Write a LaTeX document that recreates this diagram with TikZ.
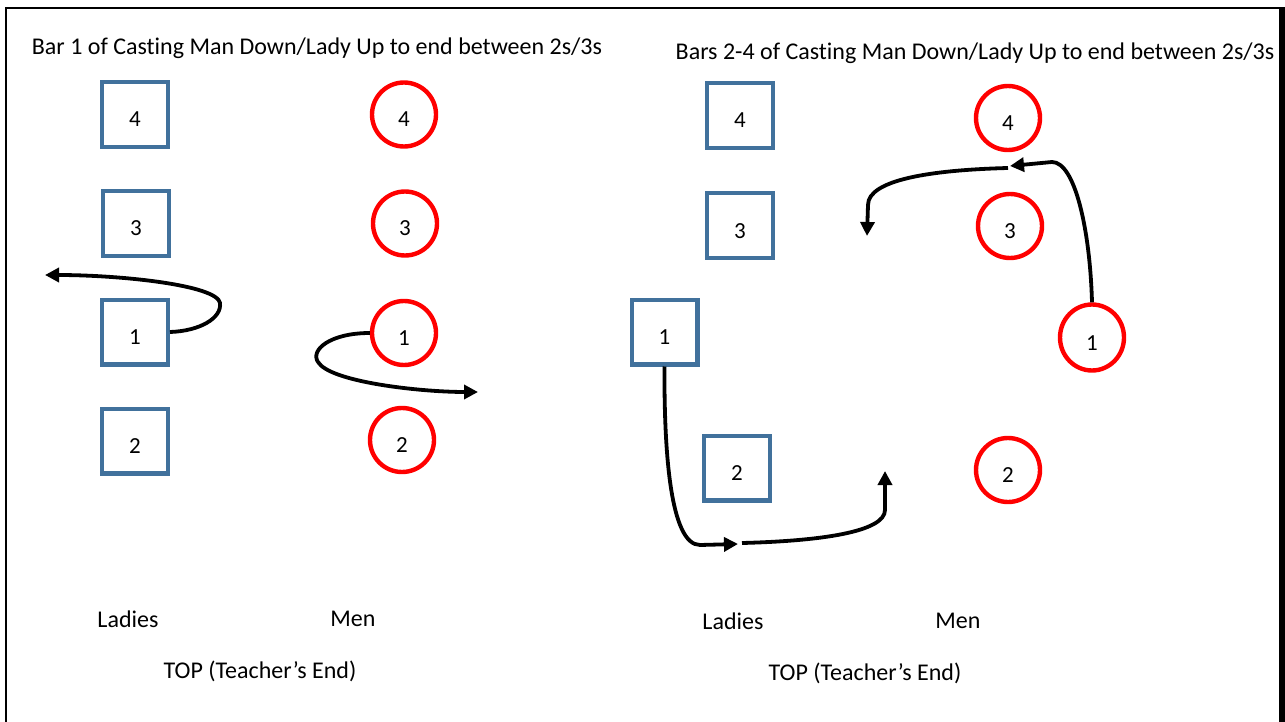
\documentclass[tikz,border=0pt]{standalone}
\usepackage{fontspec}
\setmainfont{Carlito}[Ligatures=NoCommon]
\usetikzlibrary{arrows.meta,shapes.geometric}
\definecolor{ladyblue}{HTML}{41719C}
\begin{document}
\begin{tikzpicture}[x=1pt,y=-1pt,
  spot/.style={line width=4.4pt,inner sep=0pt,text height=25pt,text depth=0pt,font=\fontsize{23}{26}\selectfont},
  lady/.style={spot,draw=ladyblue,minimum width=65.6pt,minimum height=64.6pt},
  man/.style={spot,draw=red,circle,minimum size=64pt},
  lbl/.style={font=\fontsize{24}{28}\selectfont,inner sep=0pt},
  move/.style={line width=3.8pt,-{Triangle[length=14pt,width=14pt]}}]
\useasboundingbox (0,0) rectangle (1285,722);
% frame
\draw[line width=1.3pt] (5,8) -- (1280,8);
\draw[line width=1.3pt] (6,8) -- (6,722);
\fill (1279,7) rectangle (1285,722);

% ---------- Bar 1 ----------
\node[lbl] (t1) at (317,48) {Bar 1 of Casting Man Down/Lady Up to end between 2s/3s};
\node[lady] (aL4) at (135,114.5) {4};
\node[lady] (aL3) at (136,223.5) {3};
\node[lady] (aL1) at (135,332) {1};
\node[lady] (aL2) at (135,441) {2};
\node[man] (aM4) at (404,114.5) {4};
\node[man] (aM3) at (405,223.5) {3};
\node[man] (aM1) at (404,333) {1};
\node[man] (aM2) at (402,440) {2};
\coordinate (aLend) at (45,275);
\coordinate (aMend) at (478,392);
\draw[move] (aL1.east) .. controls (200,331) and (222,318) .. (220,303)
  .. controls (217,285) and (120,275) .. (aLend);
\draw[move] (aM1.west) .. controls (330,333) and (310,350) .. (318,362)
  .. controls (330,382) and (420,392) .. (aMend);
\node[lbl] (aLad) at (128,619) {Ladies};
\node[lbl] (aMen) at (353,619) {Men};
\node[lbl] (aTop) at (260,671) {TOP (Teacher’s End)};

% ---------- Bars 2-4 ----------
\node[lbl] (t2) at (975,53) {Bars 2-4 of Casting Man Down/Lady Up to end between 2s/3s};
\node[lady] (bL4) at (740,115.5) {4};
\node[lady] (bL3) at (740,225.5) {3};
\node[lady] (bL1) at (664.5,332) {1};
\node[lady] (bL2) at (737,468) {2};
\node[man] (bM4) at (1008,118) {4};
\node[man] (bM3) at (1010,226) {3};
\node[spot,draw=red,ellipse,minimum width=64pt,minimum height=66pt] (bM1) at (1092,337.5) {1};
\node[man] (bM2) at (1008,470) {2};
\coordinate (bMmid) at (1010,166);
\coordinate (bMstart) at (1008,168);
\coordinate (bMend) at (867,236);
\coordinate (bLmid) at (738,544);
\coordinate (bLstart) at (742,543);
\coordinate (bLend) at (885,471);
\draw[move] (bM1.north) .. controls (1090,230) and (1075,162) .. (1052,162) -- (bMmid);
\draw[move] (bMstart) .. controls (930,170) and (868,180) .. (868,205) -- (bMend);
\draw[move] (bL1.south) .. controls (664,450) and (670,545) .. (700,545) -- (bLmid);
\draw[move] (bLstart) .. controls (820,541) and (885,532) .. (885,510) -- (bLend);
\node[lbl] (bLad) at (733,621) {Ladies};
\node[lbl] (bMen) at (958,621) {Men};
\node[lbl] (bTop) at (865,673) {TOP (Teacher’s End)};
\end{tikzpicture}
\end{document}
